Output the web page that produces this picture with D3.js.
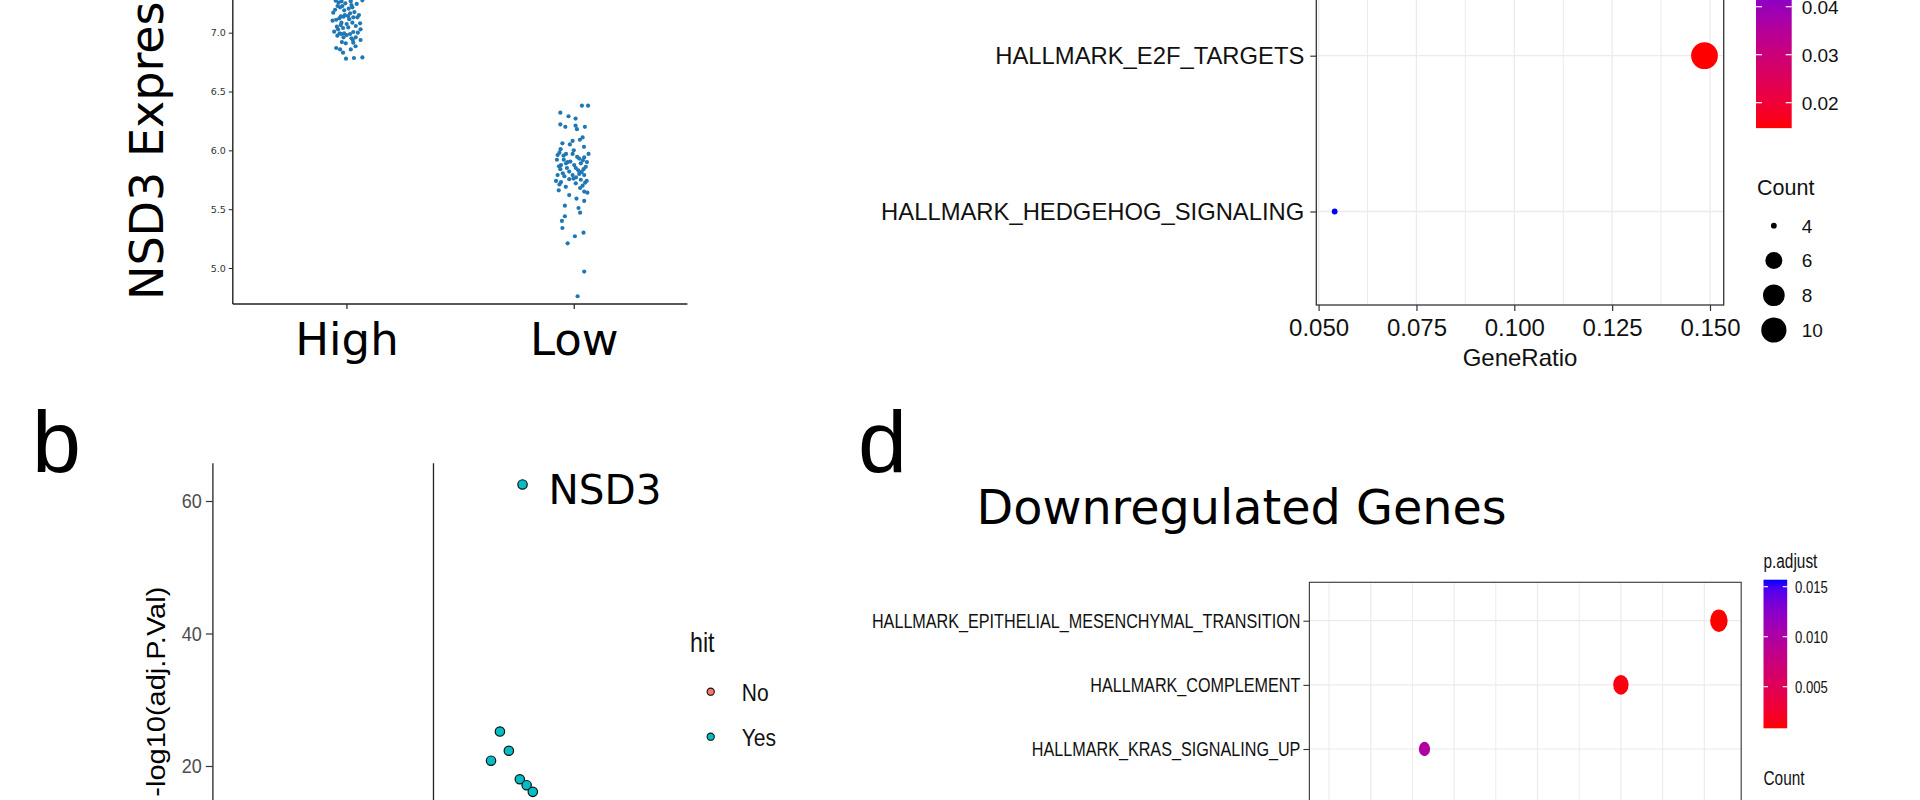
<!DOCTYPE html>
<html><head><meta charset="utf-8">
<script src="https://cdn.jsdelivr.net/npm/d3@7"></script>
<style>body{margin:0;background:#fff;} svg{display:block;}</style>
</head><body>
<svg id="fig" width="1920" height="800"></svg>
<script>
// ================= DATA =================
// Panel a : NSD3 expression strip plot
const groups = ["High", "Low"];
const exprTicks = [5.0, 5.5, 6.0, 6.5, 7.0];
const highJitter = [-0.047,-0.035,-0.022,0.019,0.070,-0.039,-0.028,-0.018,0.026,-0.058,-0.007,0.007,0.016,0.030,0.048,-0.031,-0.013,-0.061,-0.022,0.001,0.026,0.041,0.060,-0.042,-0.025,-0.054,-0.037,-0.022,-0.010,0.001,0.016,0.030,0.062,0.041,0.022,-0.013,-0.003,0.030,0.062,-0.028,-0.015,0.019,-0.002,0.033,0.070,-0.050,0.010,0.045,-0.005,0.035,-0.045,0.012,0.055,-0.015,0.008,0.050,-0.040,-0.030,0.028,-0.020,0.040,-0.045,-0.010,0.022,-0.025];
const highExpr   = [7.272,7.255,7.267,7.267,7.275,7.227,7.216,7.227,7.216,7.170,7.150,7.142,7.165,7.131,7.131,7.122,7.136,7.102,7.085,7.074,7.085,7.057,7.080,7.051,7.065,7.009,7.029,6.989,6.995,6.980,6.989,7.006,7.029,6.961,6.952,6.961,6.910,6.915,6.938,6.858,6.830,6.858,6.779,6.785,6.790,7.195,7.205,7.245,7.250,7.175,7.110,7.115,7.150,7.040,7.045,7.000,6.975,6.995,6.940,6.920,6.885,6.870,7.190,7.235,7.140];
const lowJitter = [0.036,0.063,-0.059,-0.023,0.008,-0.059,-0.037,0.008,0.049,0.014,-0.050,-0.017,-0.005,0.027,0.039,-0.063,-0.034,-0.005,-0.071,0.065,-0.074,-0.044,-0.027,0.024,0.046,-0.056,-0.034,0.002,0.031,0.053,-0.059,-0.020,0.009,0.043,-0.071,-0.041,-0.005,0.024,0.046,-0.078,-0.056,-0.001,0.031,0.057,-0.063,0.009,0.039,-0.066,0.046,0.060,-0.020,0.012,0.046,-0.039,0.021,0.028,-0.039,-0.052,-0.050,0.043,0.005,-0.027,0.046,0.017,-0.045,0.015,0.040,-0.015,0.058,-0.065,0.020,-0.030,0.035,-0.048,0.010,-0.020,0.050,-0.035,0.028,0.000,-0.058,0.045];
const lowExpr   = [6.38,6.38,6.32,6.29,6.27,6.22,6.20,6.21,6.20,6.18,6.06,6.05,6.08,6.09,6.11,5.98,5.97,5.97,5.96,5.97,5.92,5.92,5.90,5.93,5.94,5.875,5.89,5.875,5.89,5.86,5.84,5.82,5.85,5.84,5.79,5.78,5.79,5.80,5.79,5.74,5.73,5.76,5.75,5.74,5.71,5.72,5.70,5.66,5.65,5.64,5.62,5.59,5.57,5.53,5.51,5.47,5.44,5.40,5.34,5.30,5.27,5.21,4.97,4.76,5.955,5.945,5.915,5.905,5.900,5.865,5.830,5.850,5.815,5.805,5.770,5.755,5.725,5.690,5.680,6.00,6.01,6.03];

// Panel b : volcano plot
const volcGenes  = ["NSD3","G2","G3","G4","G5","G6","G7"];
const volcLogFC  = [1.30, 0.84, 0.97, 1.10, 1.26, 1.36, 1.45];
const volcNegLog = [62.5, 20.8, 25.2, 22.3, 18.0, 17.1, 16.1];
const volcHit    = ["Yes","Yes","Yes","Yes","Yes","Yes","Yes"];
const volcTicks  = [20, 40, 60];
const hitLevels  = ["No", "Yes"];
const hitColors  = ["#F8766D", "#00BFC4"];

// Panel c : upregulated genes enrichment
const upTerms  = ["HALLMARK_E2F_TARGETS", "HALLMARK_HEDGEHOG_SIGNALING"];
const upRatio  = [0.1486, 0.0541];
const upCount  = [11, 4];
const upPadj   = [0.0147, 0.0500];
const upXTicks = [0.050, 0.075, 0.100, 0.125, 0.150];
const upPadjTicks  = [0.02, 0.03, 0.04];
const upCountTicks = [4, 6, 8, 10];

// Panel d : downregulated genes enrichment
const downTerms = ["HALLMARK_EPITHELIAL_MESENCHYMAL_TRANSITION", "HALLMARK_COMPLEMENT", "HALLMARK_KRAS_SIGNALING_UP"];
const downRatio = [0.2235, 0.2000, 0.1529];
const downCount = [19, 17, 13];
const downPadj  = [0.00084, 0.0012, 0.0098];
const downPadjRange = [0.00084, 0.0157];
const downXMajor = [0.14, 0.16, 0.18, 0.20, 0.22];
const downXMinor = [0.13, 0.15, 0.17, 0.19, 0.21];
const downPadjTicks = [0.005, 0.010, 0.015];

// ================= DRAWING =================
const SANS = "'Liberation Sans', Arial, Helvetica, sans-serif";
const DJV = "'DejaVu Sans', Verdana, sans-serif";
const svg = d3.select("#fig");
svg.append("rect").attr("width", 1920).attr("height", 800).attr("fill", "#fff");
const defs = svg.append("defs");

function condense(sel, sx) {
  sel.each(function () {
    const t = d3.select(this);
    const x = +(t.attr("x") || 0);
    t.attr("x", x / sx).attr("transform", `scale(${sx},1)`);
  });
}
function styleAxis(g, size, color, family) {
  g.attr("font-family", family).attr("font-size", size);
  g.selectAll("text").attr("fill", color);
}

// ---------- Panel a ----------
{
  const g = svg.append("g");
  const xA = d3.scaleLinear().domain([-0.5, 1.5]).range([232.8, 687.4]);
  const yA = d3.scaleLinear().domain([5.0, 7.0]).range([268, 32.7]);
  const base = yA(4.694);
  g.append("line").attr("x1", xA(-0.5)).attr("x2", xA(-0.5)).attr("y1", -5).attr("y2", base)
    .attr("stroke", "#222").attr("stroke-width", 1.4);
  g.append("line").attr("x1", xA(-0.5)).attr("x2", xA(1.5)).attr("y1", base).attr("y2", base)
    .attr("stroke", "#222").attr("stroke-width", 1.4);
  const ay = g.append("g").attr("transform", `translate(${xA(-0.5)},0)`)
    .call(d3.axisLeft(yA).tickValues(exprTicks).tickFormat(d3.format(".1f")).tickSize(4).tickPadding(3));
  ay.select(".domain").remove();
  styleAxis(ay, 9.5, "#333", DJV);
  ay.selectAll("line").attr("stroke", "#222");
  const ax = g.append("g").attr("transform", `translate(0,${base})`)
    .call(d3.axisBottom(xA).tickValues([0, 1]).tickFormat(i => groups[i]).tickSize(5).tickPadding(14));
  ax.select(".domain").remove();
  styleAxis(ax, 45, "#000", DJV);
  ax.selectAll("line").attr("stroke", "#222").attr("stroke-width", 1.2);

  const pts = highExpr.map((v, i) => ({ x: 0 + highJitter[i], y: v }))
    .concat(lowExpr.map((v, i) => ({ x: 1 + lowJitter[i], y: v })));
  g.selectAll("circle.pa").data(pts).join("circle").attr("class", "pa")
    .attr("cx", d => xA(d.x)).attr("cy", d => yA(d.y)).attr("r", 2.1).attr("fill", "#1f77b4");

  g.append("text").attr("transform", "translate(163,300) rotate(-90)")
    .attr("font-family", DJV).attr("font-size", 46).attr("fill", "#000").text("NSD3 Expression");
}

// ---------- Panel b ----------
{
  const g = svg.append("g");
  const sx = 0.86;
  const xB = d3.scaleLinear().domain([-3.22, 3.4]).range([212.9, 666.4]);
  const yB = d3.scaleLinear().domain([20, 60]).range([766, 501]);
  const top = 463.3, bot = 815;
  g.append("line").attr("x1", xB(-3.22)).attr("x2", xB(-3.22)).attr("y1", top).attr("y2", bot)
    .attr("stroke", "#222").attr("stroke-width", 1.3);
  g.append("line").attr("x1", xB(0)).attr("x2", xB(0)).attr("y1", top).attr("y2", bot)
    .attr("stroke", "#222").attr("stroke-width", 1.3);
  const ay = g.append("g").attr("transform", `translate(${xB(-3.22)},0)`)
    .call(d3.axisLeft(yB).tickValues(volcTicks).tickSize(7).tickPadding(4));
  ay.select(".domain").remove();
  styleAxis(ay, 21, "#4d4d4d", SANS);
  ay.selectAll("line").attr("stroke", "#333").attr("stroke-width", 1.2);
  condense(ay.selectAll("text"), sx);

  const hitColor = d3.scaleOrdinal().domain(hitLevels).range(hitColors);
  const pts = volcGenes.map((gname, i) => ({ g: gname, x: volcLogFC[i], y: volcNegLog[i], hit: volcHit[i] }));
  g.selectAll("circle.pb").data(pts).join("circle").attr("class", "pb")
    .attr("cx", d => xB(d.x)).attr("cy", d => yB(d.y)).attr("r", 4.7)
    .attr("fill", d => hitColor(d.hit)).attr("stroke", "#111").attr("stroke-width", 1.2);
  const lab = pts[0];
  g.append("text").attr("x", xB(lab.x) + 26).attr("y", yB(lab.y) + 20)
    .attr("font-family", DJV).attr("font-size", 40.5).attr("fill", "#000").text(lab.g);

  g.append("text").attr("transform", "translate(165,586.7) rotate(-90) scale(1,0.86)")
    .attr("text-anchor", "end").attr("font-family", SANS).attr("font-size", 29).attr("fill", "#000")
    .text("-log10(adj.P.Val)");

  // legend
  const t = g.append("text").attr("x", 690).attr("y", 652.5).attr("font-family", SANS)
    .attr("font-size", 27).attr("fill", "#111").text("hit");
  condense(t, sx);
  const ly = d3.scalePoint().domain(hitLevels).range([691.7, 736.7]);
  hitLevels.forEach(h => {
    g.append("circle").attr("cx", 710.7).attr("cy", ly(h)).attr("r", 3.6)
      .attr("fill", hitColor(h)).attr("stroke", "#111").attr("stroke-width", 1.1);
    const tt = g.append("text").attr("x", 741.7).attr("y", ly(h) + 9).attr("font-family", SANS)
      .attr("font-size", 24.5).attr("fill", "#111").text(h);
    condense(tt, sx);
  });

  svg.append("text").attr("x", 32).attr("y", 471.7).attr("font-family", SANS)
    .attr("font-size", 88).attr("fill", "#000").text("b");
}

// ---------- Panel c ----------
{
  const g = svg.append("g");
  const L = 1316.3, R = 1723.7, B = 305, T = -40;
  const xC = d3.scaleLinear().domain([0.050, 0.150]).range([1318.6, 1710]);
  const yC = d3.scalePoint().domain(upTerms).range([55.7, 211.5]);
  const colC = d3.scaleLinear().domain([d3.min(upPadj), d3.max(upPadj)]).range(["red", "blue"]).interpolate(d3.interpolateLab);
  const tC = d3.scaleLinear().domain([4, 11]).range([0, 1]);
  const sC = d3.scaleSqrt().domain([0, 1]).range([2.9, 13.4]);
  const minors = d3.pairs(upXTicks).map(p => (p[0] + p[1]) / 2).concat([upXTicks[0] - 0.0125]);
  g.selectAll("line.mn").data(minors.filter(v => xC(v) > L && xC(v) < R)).join("line").attr("class", "mn")
    .attr("x1", d => xC(d)).attr("x2", d => xC(d)).attr("y1", T).attr("y2", B).attr("stroke", "#ebebeb").attr("stroke-width", 1);
  g.selectAll("line.mj").data(upXTicks).join("line").attr("class", "mj")
    .attr("x1", d => xC(d)).attr("x2", d => xC(d)).attr("y1", T).attr("y2", B).attr("stroke", "#ebebeb").attr("stroke-width", 1.3);
  g.selectAll("line.hz").data(upTerms).join("line").attr("class", "hz")
    .attr("x1", L).attr("x2", R).attr("y1", d => yC(d)).attr("y2", d => yC(d)).attr("stroke", "#ebebeb").attr("stroke-width", 1.3);
  g.append("rect").attr("x", L).attr("y", T).attr("width", R - L).attr("height", B - T)
    .attr("fill", "none").attr("stroke", "#333").attr("stroke-width", 1.3);

  const ay = g.append("g").attr("transform", `translate(${L},0)`)
    .call(d3.axisLeft(yC).tickSize(6).tickPadding(6));
  ay.select(".domain").remove();
  styleAxis(ay, 23.8, "#111", SANS);
  ay.selectAll("line").attr("stroke", "#333").attr("stroke-width", 1.2);
  const ax = g.append("g").attr("transform", `translate(0,${B})`)
    .call(d3.axisBottom(xC).tickValues(upXTicks).tickFormat(d3.format(".3f")).tickSize(6).tickPadding(8));
  ax.select(".domain").remove();
  styleAxis(ax, 24, "#111", SANS);
  ax.selectAll("line").attr("stroke", "#333").attr("stroke-width", 1.2);
  g.append("text").attr("x", (L + R) / 2).attr("y", 366).attr("text-anchor", "middle")
    .attr("font-family", SANS).attr("font-size", 24).attr("fill", "#111").text("GeneRatio");

  const pts = upTerms.map((t, i) => ({ t, x: upRatio[i], c: upCount[i], p: upPadj[i] }));
  g.selectAll("circle.pc").data(pts).join("circle").attr("class", "pc")
    .attr("cx", d => xC(d.x)).attr("cy", d => yC(d.t)).attr("r", d => sC(tC(d.c))).attr("fill", d => colC(d.p));

  // colour bar
  const barX = 1756, barW = 35.7;
  const yBar = d3.scaleLinear().domain([0.02, 0.04]).range([102.7, 6.7]);
  const [pmin, pmax] = colC.domain();
  const grad = defs.append("linearGradient").attr("id", "gradC").attr("gradientUnits", "userSpaceOnUse")
    .attr("x1", 0).attr("x2", 0).attr("y1", yBar(pmin)).attr("y2", yBar(pmax));
  d3.range(0, 1.0001, 0.05).forEach(f => grad.append("stop").attr("offset", f).attr("stop-color", colC(pmin + f * (pmax - pmin))));
  g.append("rect").attr("x", barX).attr("y", yBar(pmax)).attr("width", barW).attr("height", yBar(pmin) - yBar(pmax)).attr("fill", "url(#gradC)");
  upPadjTicks.forEach(v => {
    g.append("line").attr("x1", barX).attr("x2", barX + 6).attr("y1", yBar(v)).attr("y2", yBar(v)).attr("stroke", "#fff").attr("stroke-width", 1.2);
    g.append("line").attr("x1", barX + barW - 6).attr("x2", barX + barW).attr("y1", yBar(v)).attr("y2", yBar(v)).attr("stroke", "#fff").attr("stroke-width", 1.2);
    g.append("text").attr("x", 1801.7).attr("y", yBar(v)).attr("dy", "0.36em").attr("font-family", SANS)
      .attr("font-size", 19).attr("fill", "#111").text(d3.format(".2f")(v));
  });
  // size legend
  g.append("text").attr("x", 1757).attr("y", 195).attr("font-family", SANS).attr("font-size", 21.5).attr("fill", "#111").text("Count");
  const ky = d3.scalePoint().domain(upCountTicks).range([225.7, 330]);
  upCountTicks.forEach(c => {
    g.append("circle").attr("cx", barX + barW / 2).attr("cy", ky(c)).attr("r", sC(tC(c))).attr("fill", "#000");
    g.append("text").attr("x", 1801.7).attr("y", ky(c)).attr("dy", "0.36em").attr("font-family", SANS)
      .attr("font-size", 19).attr("fill", "#111").text(c);
  });
}

// ---------- Panel d ----------
{
  const g = svg.append("g");
  const sx = 0.77;
  const L = 1309.4, R = 1741.2, T = 582.3, B = 830;
  const xD = d3.scaleLinear().domain([0.13, 0.22]).range([1329, 1704.3]);
  const yD = d3.scalePoint().domain(downTerms).range([620.7, 749]);
  const colD = d3.scaleLinear().domain(downPadjRange).range(["red", "blue"]).interpolate(d3.interpolateLab);
  const rD = d3.scaleLinear().domain([13, 19]).range([7.2, 11.2]);

  g.selectAll("line.mn").data(downXMinor).join("line").attr("class", "mn")
    .attr("x1", d => xD(d)).attr("x2", d => xD(d)).attr("y1", T).attr("y2", B).attr("stroke", "#ebebeb").attr("stroke-width", 1);
  g.selectAll("line.mj").data(downXMajor).join("line").attr("class", "mj")
    .attr("x1", d => xD(d)).attr("x2", d => xD(d)).attr("y1", T).attr("y2", B).attr("stroke", "#ebebeb").attr("stroke-width", 1.2);
  g.selectAll("line.hz").data(downTerms).join("line").attr("class", "hz")
    .attr("x1", L).attr("x2", R).attr("y1", d => yD(d)).attr("y2", d => yD(d)).attr("stroke", "#ebebeb").attr("stroke-width", 1.2);
  g.append("rect").attr("x", L).attr("y", T).attr("width", R - L).attr("height", B - T)
    .attr("fill", "none").attr("stroke", "#444").attr("stroke-width", 1.2);

  const ay = g.append("g").attr("transform", `translate(${L},0)`)
    .call(d3.axisLeft(yD).tickSize(6).tickPadding(3));
  ay.select(".domain").remove();
  styleAxis(ay, 21, "#111", SANS);
  ay.selectAll("line").attr("stroke", "#333").attr("stroke-width", 1.1);
  condense(ay.selectAll("text"), sx);

  const pts = downTerms.map((t, i) => ({ t, x: downRatio[i], c: downCount[i], p: downPadj[i] }));
  g.selectAll("ellipse.pd").data(pts).join("ellipse").attr("class", "pd")
    .attr("cx", d => xD(d.x)).attr("cy", d => yD(d.t)).attr("rx", d => rD(d.c) * 0.78).attr("ry", d => rD(d.c))
    .attr("fill", d => colD(d.p));

  // legend
  const barX = 1763.5, barW = 23.7;
  const yBar = d3.scaleLinear().domain([0.005, 0.015]).range([686.7, 586.7]);
  const [pmin, pmax] = downPadjRange;
  const grad = defs.append("linearGradient").attr("id", "gradD").attr("gradientUnits", "userSpaceOnUse")
    .attr("x1", 0).attr("x2", 0).attr("y1", yBar(pmin)).attr("y2", yBar(pmax));
  d3.range(0, 1.0001, 0.05).forEach(f => grad.append("stop").attr("offset", f).attr("stop-color", colD(pmin + f * (pmax - pmin))));
  let tt = g.append("text").attr("x", 1763.5).attr("y", 568.3).attr("font-family", SANS).attr("font-size", 20).attr("fill", "#111").text("p.adjust");
  condense(tt, sx);
  g.append("rect").attr("x", barX).attr("y", yBar(pmax)).attr("width", barW).attr("height", yBar(pmin) - yBar(pmax)).attr("fill", "url(#gradD)");
  downPadjTicks.forEach(v => {
    g.append("line").attr("x1", barX).attr("x2", barX + 4.5).attr("y1", yBar(v)).attr("y2", yBar(v)).attr("stroke", "#fff").attr("stroke-width", 1.1);
    g.append("line").attr("x1", barX + barW - 4.5).attr("x2", barX + barW).attr("y1", yBar(v)).attr("y2", yBar(v)).attr("stroke", "#fff").attr("stroke-width", 1.1);
    const lt = g.append("text").attr("x", 1795).attr("y", yBar(v)).attr("dy", "0.36em").attr("font-family", SANS)
      .attr("font-size", 17).attr("fill", "#111").text(d3.format(".3f")(v));
    condense(lt, sx);
  });
  tt = g.append("text").attr("x", 1763.5).attr("y", 785).attr("font-family", SANS).attr("font-size", 20).attr("fill", "#111").text("Count");
  condense(tt, sx);

  svg.append("text").attr("x", 976.5).attr("y", 523.5).attr("font-family", DJV).attr("font-size", 47.7)
    .attr("fill", "#000").text("Downregulated Genes");
  svg.append("text").attr("x", 858).attr("y", 472).attr("font-family", SANS)
    .attr("font-size", 88).attr("fill", "#000").text("d");
}
</script>
</body></html>
